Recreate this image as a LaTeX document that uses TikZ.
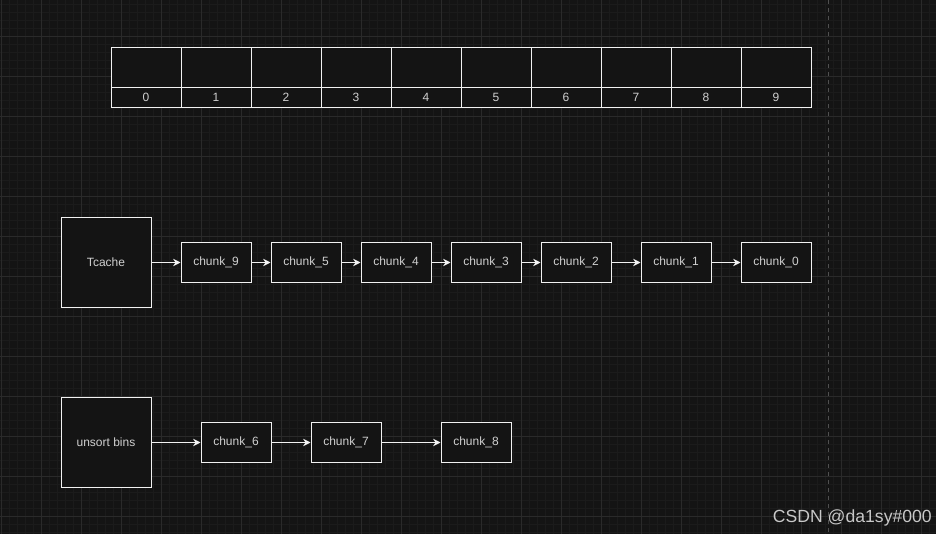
\documentclass[tikz,border=0pt]{standalone}
\usepackage{fontspec}
\setmainfont{Liberation Sans}
\usepackage{xcolor}
\usetikzlibrary{arrows.meta,positioning}
\definecolor{canvas}{HTML}{141414}
\definecolor{gridmajor}{HTML}{2A2A2A}
\definecolor{gridminor}{HTML}{1B1B1B}
\definecolor{edge}{HTML}{F2F2F2}
\definecolor{labelgray}{HTML}{D0D0D0}
\definecolor{guide}{HTML}{505050}
\tikzset{
    slot/.style={
        rectangle, draw=edge, fill=canvas, line width=0.75pt,
        minimum width=52.5pt, minimum height=30pt, inner sep=0pt
    },
    index/.style={
        slot, minimum height=15pt,
        font=\fontsize{9}{10}\selectfont, text=labelgray
    },
    bin/.style={
        rectangle, draw=edge, fill=canvas, line width=0.75pt,
        minimum width=67.5pt, minimum height=67.5pt, inner sep=0pt,
        align=center, font=\fontsize{9}{10}\selectfont, text=labelgray
    },
    chunk/.style={
        bin, minimum width=52.5pt, minimum height=30pt
    },
    link/.style={-{Stealth[length=5.5pt,width=5.5pt,inset=1.8pt]},draw=edge,line width=0.75pt}
}

\begin{document}
\begin{tikzpicture}[x=0.75pt, y=-0.75pt]

%% canvas -- 936 x 534 px, y grows downwards
\fill[canvas] (0,0) rectangle (936,534);
\useasboundingbox (0,0) rectangle (936,534);

%% background grid, minor every 8px, major every 40px
\foreach \gx in {1,9,...,935} \draw[gridminor, line width=0.75pt] (\gx,0) -- (\gx,534);
\foreach \gy in {5,13,...,533} \draw[gridminor, line width=0.75pt] (0,\gy) -- (936,\gy);
\foreach \gx in {1,41,...,921} \draw[gridmajor, line width=0.75pt] (\gx,0) -- (\gx,534);
\foreach \gy in {37,77,...,517} \draw[gridmajor, line width=0.75pt] (0,\gy) -- (936,\gy);

%% page edge guide
\draw[guide, line width=0.75pt, dash pattern=on 3pt off 3pt] (828,0) -- (828,534);

%% array of 10 entries -- cells 70px wide from x=111
\foreach \i in {0,...,9} {
    \node[slot]  (cell\i) at (146+70*\i, 67.5) {};
    \node[index] (idx\i)  at (146+70*\i, 97.5) {\i};
}

%% Tcache list -- row centred at y=262
\node[bin]   (tcache) at (106, 262.5) {Tcache};
\node[chunk] (c9)     at (216, 262.5) {chunk\_9};
\node[chunk] (c5)     at (306, 262.5) {chunk\_5};
\node[chunk] (c4)     at (396, 262.5) {chunk\_4};
\node[chunk] (c3)     at (486, 262.5) {chunk\_3};
\node[chunk] (c2)     at (576, 262.5) {chunk\_2};
\node[chunk] (c1)     at (676, 262.5) {chunk\_1};
\node[chunk] (c0)     at (776, 262.5) {chunk\_0};

\draw[link] (tcache) -- (c9);
\draw[link] (c9) -- (c5);
\draw[link] (c5) -- (c4);
\draw[link] (c4) -- (c3);
\draw[link] (c3) -- (c2);
\draw[link] (c2) -- (c1);
\draw[link] (c1) -- (c0);

%% unsorted bin list -- row centred at y=442
\node[bin]   (unsort) at (106, 442.5) {unsort bins};
\node[chunk] (c6)     at (236, 442.5) {chunk\_6};
\node[chunk] (c7)     at (346, 442.5) {chunk\_7};
\node[chunk] (c8)     at (476, 442.5) {chunk\_8};

\draw[link] (unsort) -- (c6);
\draw[link] (c6) -- (c7);
\draw[link] (c7) -- (c8);

%% watermark
\node[anchor=east, inner sep=0pt, text=labelgray!90!gray,
      font=\fontsize{13.2}{15}\selectfont] (mark) at (932, 517.5) {CSDN @da1sy\#000};

\end{tikzpicture}
\end{document}
